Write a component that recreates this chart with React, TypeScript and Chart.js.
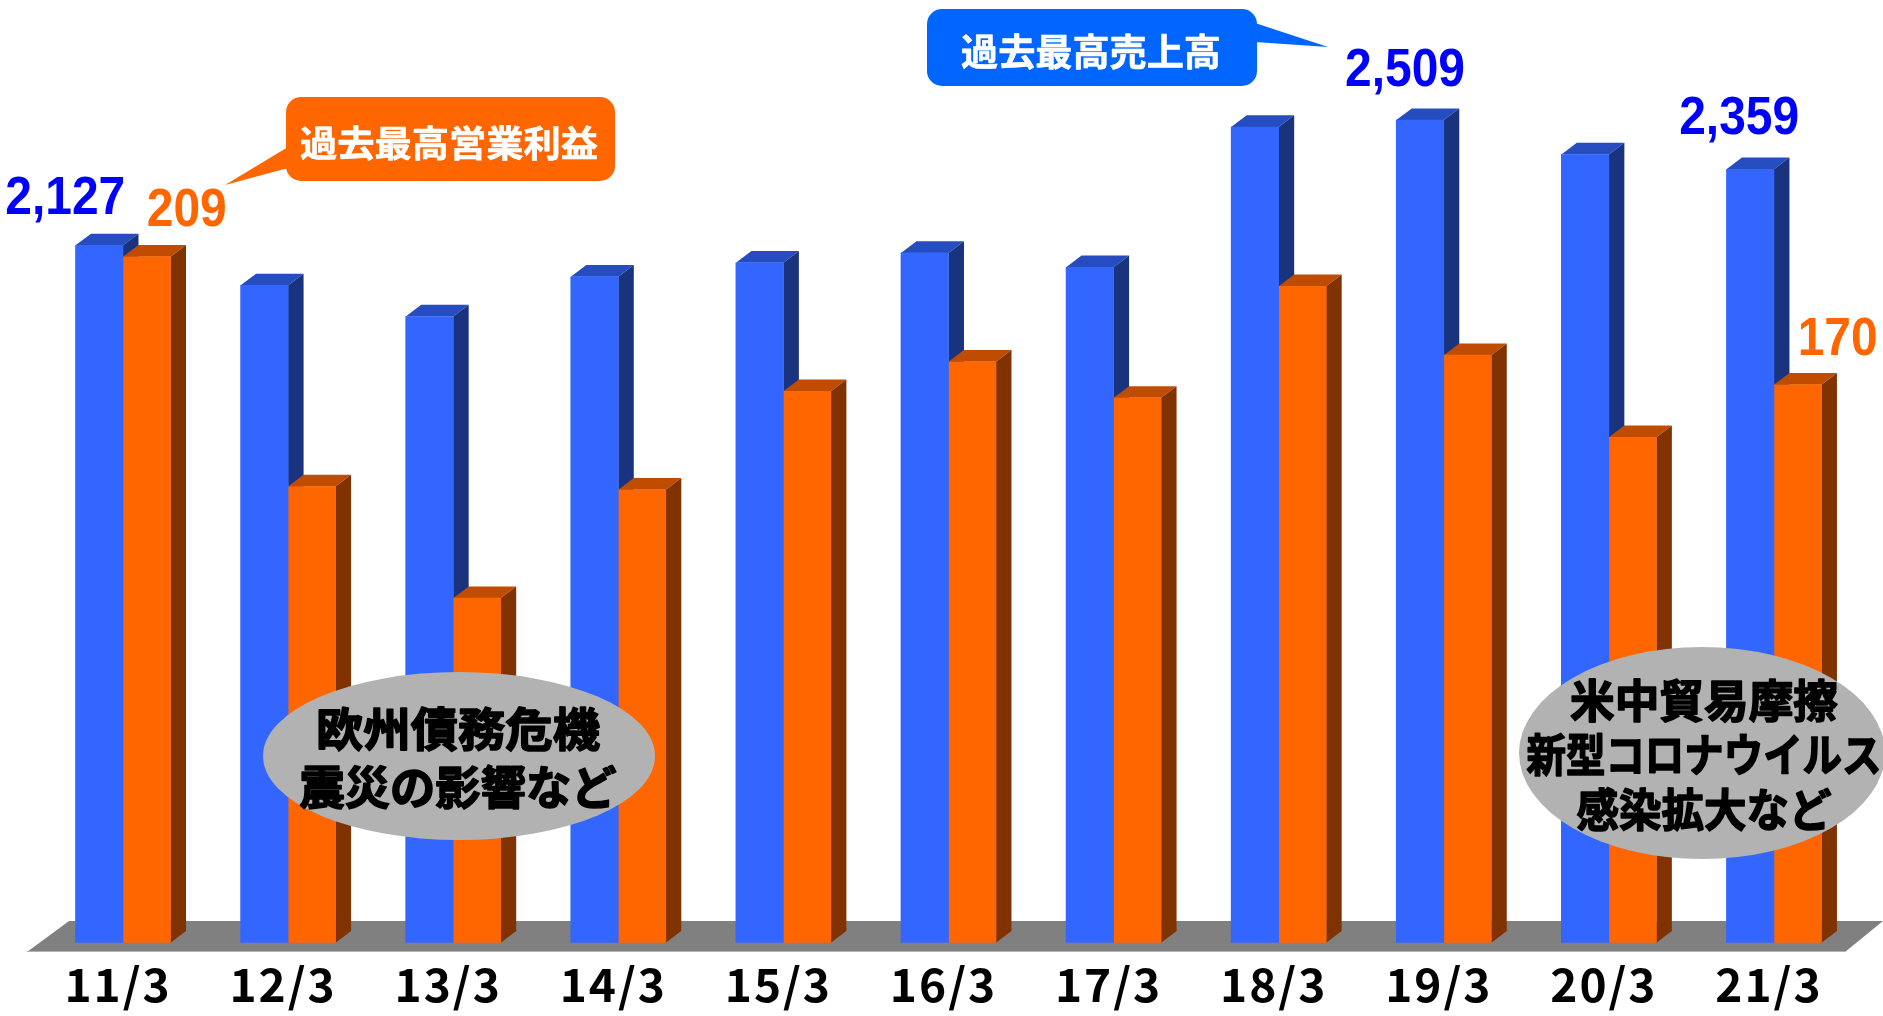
import React, { useEffect, useRef } from "react";
import { Chart, registerables } from "chart.js";

Chart.register(...registerables);

const categories = ["11/3", "12/3", "13/3", "14/3", "15/3", "16/3", "17/3", "18/3", "19/3", "20/3", "21/3"];
const salesValues = [2127, 2005, 1910, 2031, 2074, 2104, 2060, 2488, 2509, 2404, 2359];
const profitValues = [209, 139, 105, 138, 168, 177, 166, 200, 179, 154, 170];
// Which bars get a value label, and how far the label sits from the bar top.
const valueLabels = [
  { ds: 0, idx: 0, dx: -34, dy: -46, w: 120, color: "#0000FF" },
  { ds: 1, idx: 0, dx: 40, dy: -46, w: 80, color: "#FF6600" },
  { ds: 0, idx: 8, dx: -15, dy: -49, w: 120, color: "#0000FF" },
  { ds: 0, idx: 10, dx: -11, dy: -50, w: 120, color: "#0000FF" },
  { ds: 1, idx: 10, dx: 40, dy: -45, w: 80, color: "#FF6600" },
];
const JP = '"Noto Sans CJK JP", sans-serif';
const NUM = '"Liberation Sans", sans-serif';
const DEPTH_X = 15.5;
const DEPTH_Y = 11.7;

function poly(ctx: CanvasRenderingContext2D, pts: number[][], fill: string) {
  ctx.beginPath();
  pts.forEach((p, i) => (i ? ctx.lineTo(p[0], p[1]) : ctx.moveTo(p[0], p[1])));
  ctx.closePath();
  ctx.fillStyle = fill;
  ctx.fill();
}

function fitText(ctx: CanvasRenderingContext2D, text: string, cx: number, cy: number, font: string, width: number, color: string, stroke = 0) {
  ctx.save();
  ctx.font = font;
  ctx.textAlign = "center";
  ctx.textBaseline = "middle";
  const natural = ctx.measureText(text).width;
  ctx.translate(cx, cy);
  ctx.scale(width / natural, 1);
  ctx.fillStyle = color;
  if (stroke) {
    ctx.strokeStyle = color;
    ctx.lineWidth = stroke;
    ctx.lineJoin = "round";
    ctx.strokeText(text, 0, 0);
  }
  ctx.fillText(text, 0, 0);
  ctx.restore();
}

function callout(ctx: CanvasRenderingContext2D, x0: number, y0: number, x1: number, y1: number, tail: number[][], color: string) {
  ctx.beginPath();
  ctx.roundRect(x0, y0, x1 - x0, y1 - y0, 15);
  ctx.fillStyle = color;
  ctx.fill();
  poly(ctx, tail, color);
}

const sides = [
  { top: "#264DBF", side: "#1A337F" },
  { top: "#BF4C00", side: "#803300" },
];

const decor = {
  id: "decor",
  beforeDraw(chart: any) {
    (chart.ctx as any).letterSpacing = "2px";
  },
  beforeDatasetsDraw(chart: any) {
    const ctx: CanvasRenderingContext2D = chart.ctx;
    (ctx as any).letterSpacing = "0px";
    poly(ctx, [[27, 952], [69, 921], [1883, 921], [1845, 952]], "#808080");
    ctx.fillStyle = "#B4B4B4";
    ctx.fillRect(27, 951, 1818, 1);
    [0, 1].forEach((ds) => {
      chart.getDatasetMeta(ds).data.forEach((bar: any) => {
        const { x, y, base, width } = bar.getProps(["x", "y", "base", "width"], true);
        const l = x - width / 2;
        const r = x + width / 2;
        poly(ctx, [[l, y], [l + DEPTH_X, y - DEPTH_Y], [r + DEPTH_X, y - DEPTH_Y], [r, y]], sides[ds].top);
        poly(ctx, [[r, y], [r + DEPTH_X, y - DEPTH_Y], [r + DEPTH_X, base - DEPTH_Y], [r, base]], sides[ds].side);
      });
    });
  },
  afterDraw(chart: any) {
    const ctx: CanvasRenderingContext2D = chart.ctx;
    valueLabels.forEach((v) => {
      const bar = chart.getDatasetMeta(v.ds).data[v.idx];
      const value = (v.ds === 0 ? salesValues : profitValues)[v.idx];
      fitText(ctx, value.toLocaleString("en-US"), bar.x + v.dx, bar.y + v.dy, `bold 54px ${NUM}`, v.w, v.color);
    });

    callout(ctx, 286, 97, 615, 181, [[288, 147], [225, 185], [288, 168]], "#FF6600");
    fitText(ctx, "過去最高営業利益", 449, 143, `bold 36px ${JP}`, 298, "#FFFFFF", 0.6);
    callout(ctx, 927, 9, 1257, 86, [[1255, 23], [1328, 47], [1255, 42]], "#0066FF");
    fitText(ctx, "過去最高売上高", 1091, 52, `bold 37px ${JP}`, 260, "#FFFFFF", 0.6);

    ctx.fillStyle = "#B2B2B2";
    ctx.beginPath();
    ctx.ellipse(459, 756, 196, 84, 0, 0, Math.PI * 2);
    ctx.fill();
    ctx.beginPath();
    ctx.ellipse(1702, 753, 183, 106, 0, 0, Math.PI * 2);
    ctx.fill();

    fitText(ctx, "欧州債務危機", 458, 729, `bold 46px ${JP}`, 284, "#000000", 1.6);
    fitText(ctx, "震災の影響など", 458, 787, `bold 46px ${JP}`, 317, "#000000", 1.6);
    fitText(ctx, "米中貿易摩擦", 1704, 701, `bold 45px ${JP}`, 268, "#000000", 1.6);
    fitText(ctx, "新型コロナウイルス", 1704, 755, `bold 45px ${JP}`, 355, "#000000", 1.6);
    fitText(ctx, "感染拡大など", 1704, 810, `bold 45px ${JP}`, 255, "#000000", 1.6);
  },
};

export default function App() {
  const ref = useRef<HTMLCanvasElement>(null);
  useEffect(() => {
    const chart = new Chart(ref.current!, {
      type: "bar",
      data: {
        labels: categories,
        datasets: [
          { label: "売上高", data: salesValues, backgroundColor: "#3366FF", yAxisID: "y", barThickness: 47.5 },
          { label: "営業利益", data: profitValues, backgroundColor: "#FF6600", yAxisID: "y1", barThickness: 47.5 },
        ],
      },
      options: {
        animation: false,
        responsive: false,
        layout: { padding: { left: 40.45, right: 26.5, top: 23.7, bottom: 0 } },
        plugins: { legend: { display: false }, tooltip: { enabled: false } },
        scales: {
          x: {
            grid: { display: false, drawTicks: false },
            border: { display: false },
            afterFit: (s: any) => {
              s.height = 73.3;
            },
            ticks: {
              color: "#000000",
              padding: 14,
              labelOffset: -5,
              maxRotation: 0,
              autoSkip: false,
              font: { family: JP, size: 46, weight: "bold" },
            },
          },
          y: { display: false, min: 0, max: 2803 },
          y1: { display: false, min: 0, max: 280 },
        },
      } as any,
      plugins: [decor],
    });
    return () => chart.destroy();
  }, []);
  return (
    <div style={{ position: "absolute", left: 0, top: 0, width: 1883, height: 1016, background: "#FFFFFF" }}>
      <canvas ref={ref} width={1883} height={1016} style={{ display: "block" }} />
    </div>
  );
}
